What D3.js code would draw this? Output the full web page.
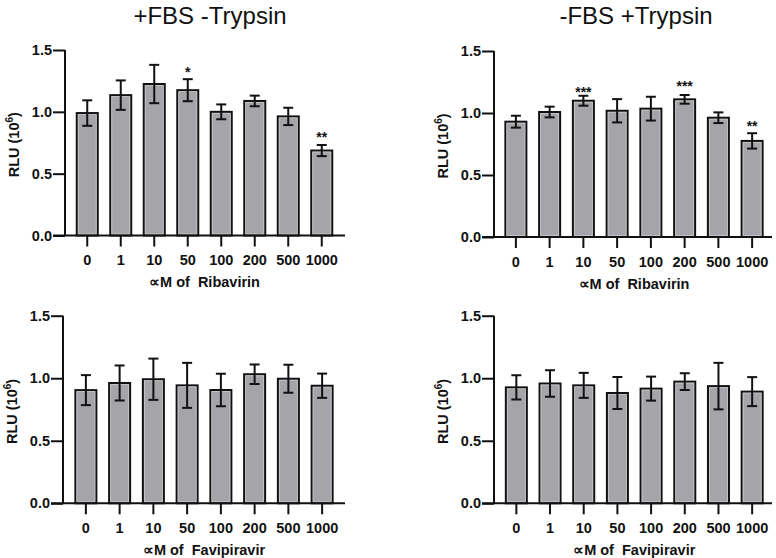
<!DOCTYPE html>
<html>
<head>
<meta charset="utf-8">
<script src="https://cdn.jsdelivr.net/npm/d3@7"></script>
<style>
  html, body { margin: 0; padding: 0; background: #fff; }
  svg { display: block; }
  text { font-family: "Liberation Sans", Arial, sans-serif; }
</style>
</head>
<body>
<svg id="chart" width="776" height="558"></svg>
<script>
// ---------- data ----------
const categories = ["0", "1", "10", "50", "100", "200", "500", "1000"];
const yTickValues = [0, 0.5, 1.0, 1.5];

const titles = ["+FBS -Trypsin", "-FBS +Trypsin"];
const drugLabels = ["\u221DM of  Ribavirin", "\u221DM of  Favipiravir"];

// +FBS -Trypsin, Ribavirin
const ribaFbsMean = [0.99, 1.135, 1.225, 1.175, 1.0, 1.088, 0.963, 0.687];
const ribaFbsErr  = [0.103, 0.119, 0.155, 0.089, 0.06, 0.043, 0.07, 0.045];
// -FBS +Trypsin, Ribavirin
const ribaTrypMean = [0.93, 1.008, 1.099, 1.018, 1.035, 1.11, 0.962, 0.775];
const ribaTrypErr  = [0.048, 0.043, 0.04, 0.094, 0.096, 0.035, 0.043, 0.062];
// +FBS -Trypsin, Favipiravir
const faviFbsMean = [0.905, 0.962, 0.992, 0.943, 0.906, 1.032, 0.996, 0.94];
const faviFbsErr  = [0.12, 0.14, 0.165, 0.18, 0.13, 0.078, 0.112, 0.097];
// -FBS +Trypsin, Favipiravir
const faviTrypMean = [0.927, 0.958, 0.943, 0.882, 0.917, 0.973, 0.937, 0.893];
const faviTrypErr  = [0.097, 0.106, 0.10, 0.128, 0.096, 0.067, 0.186, 0.116];

// significance marks: [category, label, y value]
const ribaFbsStars  = [["50", "*", 1.35], ["1000", "**", 0.823]];
const ribaTrypStars = [["10", "***", 1.194], ["200", "***", 1.24], ["1000", "**", 0.922]];

// ---------- drawing ----------
const svg = d3.select("#chart");
const FONT = '"Liberation Sans", Arial, sans-serif';

function panel(opt) {
  const g = svg.append("g");
  const x = d3.scaleBand().domain(categories).range(opt.xr).paddingInner(0.37).paddingOuter(0.185);
  const y = d3.scaleLinear().domain([0, 1.5]).range([opt.y0, opt.y15]);

  // bars
  const data = categories.map((c, i) => ({ c, m: opt.mean[i], e: opt.err[i] }));
  const bw = 21;
  g.selectAll("rect.bar").data(data).enter().append("rect")
    .attr("class", "bar")
    .attr("x", d => x(d.c) + x.bandwidth() / 2 - bw / 2)
    .attr("width", bw)
    .attr("y", d => y(d.m))
    .attr("height", d => y(0) - y(d.m))
    .attr("fill", "#a5a5a9")
    .attr("stroke", "#111")
    .attr("stroke-width", 2);
  g.selectAll("rect.inner").data(data).enter().append("rect")
    .attr("class", "inner")
    .attr("x", d => x(d.c) + x.bandwidth() / 2 - bw / 2 + 1.5)
    .attr("width", bw - 3)
    .attr("y", d => y(d.m) + 1.5)
    .attr("height", d => Math.max(0, y(0) - y(d.m) - 3))
    .attr("fill", "none")
    .attr("stroke", "#c9c9cc")
    .attr("stroke-width", 0.8);

  // error bars
  const cap = 5;
  const eb = g.selectAll("g.eb").data(data).enter().append("g")
    .attr("stroke", "#111").attr("stroke-width", 2);
  eb.append("line")
    .attr("x1", d => x(d.c) + x.bandwidth() / 2).attr("x2", d => x(d.c) + x.bandwidth() / 2)
    .attr("y1", d => y(d.m + d.e)).attr("y2", d => y(d.m - d.e));
  eb.append("line")
    .attr("x1", d => x(d.c) + x.bandwidth() / 2 - cap).attr("x2", d => x(d.c) + x.bandwidth() / 2 + cap)
    .attr("y1", d => y(d.m + d.e)).attr("y2", d => y(d.m + d.e));
  eb.append("line")
    .attr("x1", d => x(d.c) + x.bandwidth() / 2 - cap).attr("x2", d => x(d.c) + x.bandwidth() / 2 + cap)
    .attr("y1", d => y(d.m - d.e)).attr("y2", d => y(d.m - d.e));

  // y axis
  const ya = g.append("g").attr("transform", `translate(${opt.ax},0)`)
    .call(d3.axisLeft(y).tickValues(yTickValues).tickFormat(d3.format(".1f")).tickSize(12).tickPadding(1));
  ya.select(".domain").attr("d", `M0,${opt.y15}V${opt.y0}`).attr("stroke", "#111").attr("stroke-width", 2);
  ya.selectAll(".tick line").attr("stroke", "#111").attr("stroke-width", 2);
  ya.selectAll(".tick text").attr("font-family", FONT).attr("font-size", 14.5).attr("font-weight", "bold").attr("fill", "#111");

  // x axis
  const xa = g.append("g").attr("transform", `translate(0,${opt.y0})`)
    .call(d3.axisBottom(x).tickSize(11).tickPadding(8.5));
  xa.select(".domain").attr("d", `M${opt.ax - 12},0H${opt.xend}`).attr("stroke", "#111").attr("stroke-width", 2);
  xa.selectAll(".tick line").attr("stroke", "#111").attr("stroke-width", 2);
  xa.selectAll(".tick text").attr("font-family", FONT).attr("font-size", 14.5).attr("font-weight", "bold").attr("fill", "#111");

  // x label
  g.append("text")
    .attr("x", (opt.xr[0] + opt.xr[1]) / 2)
    .attr("y", opt.y0 + 51.5)
    .attr("text-anchor", "middle")
    .attr("font-size", 14.5).attr("font-weight", "bold").attr("fill", "#111")
    .style("white-space", "pre")
    .text(opt.xlabel);

  // y label
  const yl = g.append("text")
    .attr("transform", `translate(${opt.ax - 46.5},${(opt.y0 + opt.y15) / 2 + 2}) rotate(-90)`)
    .attr("text-anchor", "middle")
    .attr("font-size", 14.5).attr("font-weight", "bold").attr("fill", "#111");
  yl.append("tspan").text("RLU (10");
  yl.append("tspan").attr("font-size", 10).attr("dy", -6).text("6");
  yl.append("tspan").attr("dy", 6).text(")");

  // title
  if (opt.title) {
    g.append("text")
      .attr("x", opt.titleX)
      .attr("y", 24)
      .attr("text-anchor", "middle")
      .attr("font-size", 24).attr("fill", "#111")
      .text(opt.title);
  }

  // stars
  if (opt.stars) {
    g.selectAll("text.star").data(opt.stars).enter().append("text")
      .attr("class", "star")
      .attr("x", d => x(d[0]) + x.bandwidth() / 2)
      .attr("y", d => y(d[2]))
      .attr("dy", "0.57em")
      .attr("text-anchor", "middle")
      .attr("font-size", 14).attr("font-weight", "bold").attr("fill", "#111")
      .text(d => d[1]);
  }
}

panel({ ax: 65, xend: 345, xr: [70.5, 338.5], y0: 235.5, y15: 50,
        mean: ribaFbsMean, err: ribaFbsErr, xlabel: drugLabels[0],
        title: titles[0], titleX: 210, stars: ribaFbsStars });
panel({ ax: 494, xend: 772, xr: [499, 769], y0: 237, y15: 51,
        mean: ribaTrypMean, err: ribaTrypErr, xlabel: drugLabels[0],
        title: titles[1], titleX: 636, stars: ribaTrypStars });
panel({ ax: 63, xend: 345, xr: [69, 339], y0: 503.3, y15: 315.7,
        mean: faviFbsMean, err: faviFbsErr, xlabel: drugLabels[1] });
panel({ ax: 494, xend: 772, xr: [499.5, 769], y0: 503.3, y15: 315.7,
        mean: faviTrypMean, err: faviTrypErr, xlabel: drugLabels[1] });
</script>
</body>
</html>
